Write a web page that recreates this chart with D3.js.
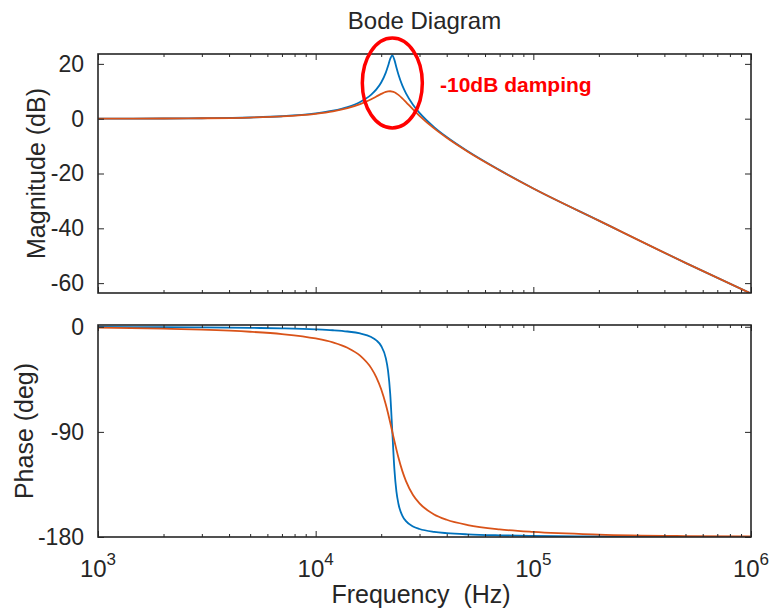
<!DOCTYPE html>
<html>
<head>
<meta charset="utf-8">
<script src="https://cdn.jsdelivr.net/npm/d3@7/dist/d3.min.js"></script>
<style>
    body { margin: 0; background: #fff; }
    text { font-family: "Liberation Sans", Arial, Helvetica, sans-serif; fill: #262626; }
</style>
</head>
<body>
<svg id="chart" width="775" height="608"></svg>
<script>
const frequences = [1000, 2000, 3000, 5000, 7000, 10000, 12000, 14000, 16000, 18000, 19000, 20000,
    21000, 21500, 22000, 22500, 23000, 23500, 24000, 25000, 26000, 28000, 30000, 35000, 40000,
    50000, 70000, 100000, 200000, 500000, 1000000];

// Magnitude (dB)
const magBleu = [0.02, 0.07, 0.16, 0.44, 0.88, 1.91, 2.90, 4.23, 6.08, 8.77, 10.67, 13.19,
    16.80, 19.20, 21.79, 23.10, 21.46, 18.66, 16.10, 12.14, 9.25, 5.11, 2.12, -3.07, -6.71,
    -11.91, -18.77, -25.46, -37.2, -52.6, -63.8];
const magOrange = [0.02, 0.07, 0.15, 0.42, 0.83, 1.78, 2.67, 3.82, 5.29, 7.10, 8.09, 9.03,
    9.76, 9.95, 10.01, 9.90, 9.63, 9.21, 8.68, 7.41, 6.04, 3.38, 1.04, -3.55, -6.98,
    -12.05, -18.83, -25.49, -37.2, -52.6, -63.8];

// Phase (deg)
const phaseBleu = [-0.18, -0.36, -0.54, -0.94, -1.38, -2.22, -2.99, -4.07, -5.75, -8.84, -11.64, -16.51,
    -26.88, -37.59, -57.29, -90, -122.13, -141.17, -151.55, -161.66, -166.44, -170.98, -173.16, -175.61, -176.70,
    -177.74, -178.56, -179.05, -179.54, -179.82, -179.91];
const phaseOrange = [-0.82, -1.64, -2.49, -4.28, -6.29, -10.05, -13.42, -18.0, -24.72, -35.41, -43.28, -53.57,
    -66.65, -74.13, -82.0, -90, -97.82, -105.21, -111.99, -123.41, -132.20, -144.02, -151.25, -160.68, -165.25,
    -169.76, -173.46, -175.66, -177.91, -179.17, -179.59];

const magTicks = [20, 0, -20, -40, -60];
const phaseTicks = [0, -90, -180];
const decades = [3, 4, 5, 6];

const couleurs = ["#0072BD", "#D95319"];

const svg = d3.select("#chart");
svg.append("rect").attr("width", 775).attr("height", 608).attr("fill", "#fff");

const left = 98, right = 751;

const x = d3.scaleLog()
    .domain([1e3, 1e6])
    .range([left, right]);

const yMag = d3.scaleLinear()
    .domain([-63.6, 23.6])
    .range([293, 54]);

const yPhase = d3.scaleLinear()
    .domain([-180, 1.5])
    .range([537, 325]);

// Petites graduations (2..9 par décade)
const mineures = [];
for (let k = 3; k < 6; k++) {
    for (let m = 2; m < 10; m++) mineures.push(m * Math.pow(10, k));
}

function panneau(nom, y, ticks, series, label, labelX) {
    const g = svg.append("g").attr("class", nom);
    const top = y.range()[1], bottom = y.range()[0];

    g.append("clipPath")
        .attr("id", "clip-" + nom)
        .append("rect")
        .attr("x", left)
        .attr("y", top)
        .attr("width", right - left)
        .attr("height", bottom - top);

    // Courbes
    const line = d3.line()
        .x((d, i) => x(frequences[i]))
        .y(d => y(d))
        .curve(d3.curveMonotoneX);

    g.append("g")
        .attr("clip-path", "url(#clip-" + nom + ")")
        .selectAll("path")
        .data(series)
        .enter()
        .append("path")
        .attr("d", d => line(d))
        .attr("fill", "none")
        .attr("stroke", (d, i) => couleurs[i])
        .attr("stroke-width", 1.8);

    // Axes: graduations vers l'intérieur, en bas et en haut
    const xBas = d3.axisBottom(x).tickValues(decades.map(d => Math.pow(10, d))).tickSizeInner(-6).tickSizeOuter(0).tickFormat("");
    const xHaut = d3.axisTop(x).tickValues(decades.map(d => Math.pow(10, d))).tickSizeInner(-6).tickSizeOuter(0).tickFormat("");
    const xBasMin = d3.axisBottom(x).tickValues(mineures).tickSizeInner(-3).tickSizeOuter(0).tickFormat("");
    const xHautMin = d3.axisTop(x).tickValues(mineures).tickSizeInner(-3).tickSizeOuter(0).tickFormat("");

    [xBas, xBasMin].forEach(a => g.append("g").attr("transform", `translate(0,${bottom})`).call(a));
    [xHaut, xHautMin].forEach(a => g.append("g").attr("transform", `translate(0,${top})`).call(a));

    g.append("g")
        .attr("class", "yleft")
        .attr("transform", `translate(${left},0)`)
        .call(d3.axisLeft(y).tickValues(ticks).tickSizeInner(-6).tickSizeOuter(0).tickPadding(14)
            .tickFormat(d => String(d)));
    g.append("g")
        .attr("transform", `translate(${right},0)`)
        .call(d3.axisRight(y).tickValues(ticks).tickSizeInner(-6).tickSizeOuter(0).tickFormat(""));

    g.selectAll(".domain").remove();
    g.selectAll(".tick line").attr("stroke", "#262626").attr("stroke-width", 1);
    g.selectAll(".yleft text")
        .attr("font-size", 23)
        .attr("fill", "#262626")
        .attr("font-family", null);

    // Cadre
    g.append("rect")
        .attr("x", left)
        .attr("y", top)
        .attr("width", right - left)
        .attr("height", bottom - top)
        .attr("fill", "none")
        .attr("stroke", "#262626")
        .attr("stroke-width", 1.6);

    g.append("text")
        .attr("transform", `translate(${labelX},${(top + bottom) / 2}) rotate(-90)`)
        .attr("text-anchor", "middle")
        .attr("font-size", 25)
        .text(label);
}

panneau("mag", yMag, magTicks, [magBleu, magOrange], "Magnitude (dB)", 45);
panneau("phase", yPhase, phaseTicks, [phaseBleu, phaseOrange], "Phase (deg)", 33);

// Étiquettes de fréquence 10^n
const xLabels = svg.selectAll(".xlab")
    .data(decades)
    .enter()
    .append("text")
    .attr("class", "xlab")
    .attr("x", d => x(Math.pow(10, d)))
    .attr("y", 577)
    .attr("text-anchor", "middle")
    .attr("font-size", 24);
xLabels.append("tspan").text("10");
xLabels.append("tspan")
    .attr("dy", -12)
    .attr("font-size", 17)
    .text(d => d);

// Titres
svg.append("text")
    .attr("x", (left + right) / 2)
    .attr("y", 29)
    .attr("text-anchor", "middle")
    .attr("font-size", 24)
    .text("Bode Diagram");

svg.append("text")
    .attr("x", 421)
    .attr("y", 603)
    .attr("text-anchor", "middle")
    .attr("font-size", 25)
    .style("white-space", "pre")
    .text("Frequency  (Hz)");

// Annotation
svg.append("ellipse")
    .attr("cx", x(22500))
    .attr("cy", 83)
    .attr("rx", 30)
    .attr("ry", 45)
    .attr("fill", "none")
    .attr("stroke", "#FF0000")
    .attr("stroke-width", 3.5);

svg.append("text")
    .attr("x", 440)
    .attr("y", 92)
    .attr("font-size", 21)
    .attr("font-weight", "bold")
    .style("fill", "#FF0000")
    .text("-10dB damping");
</script>
</body>
</html>
